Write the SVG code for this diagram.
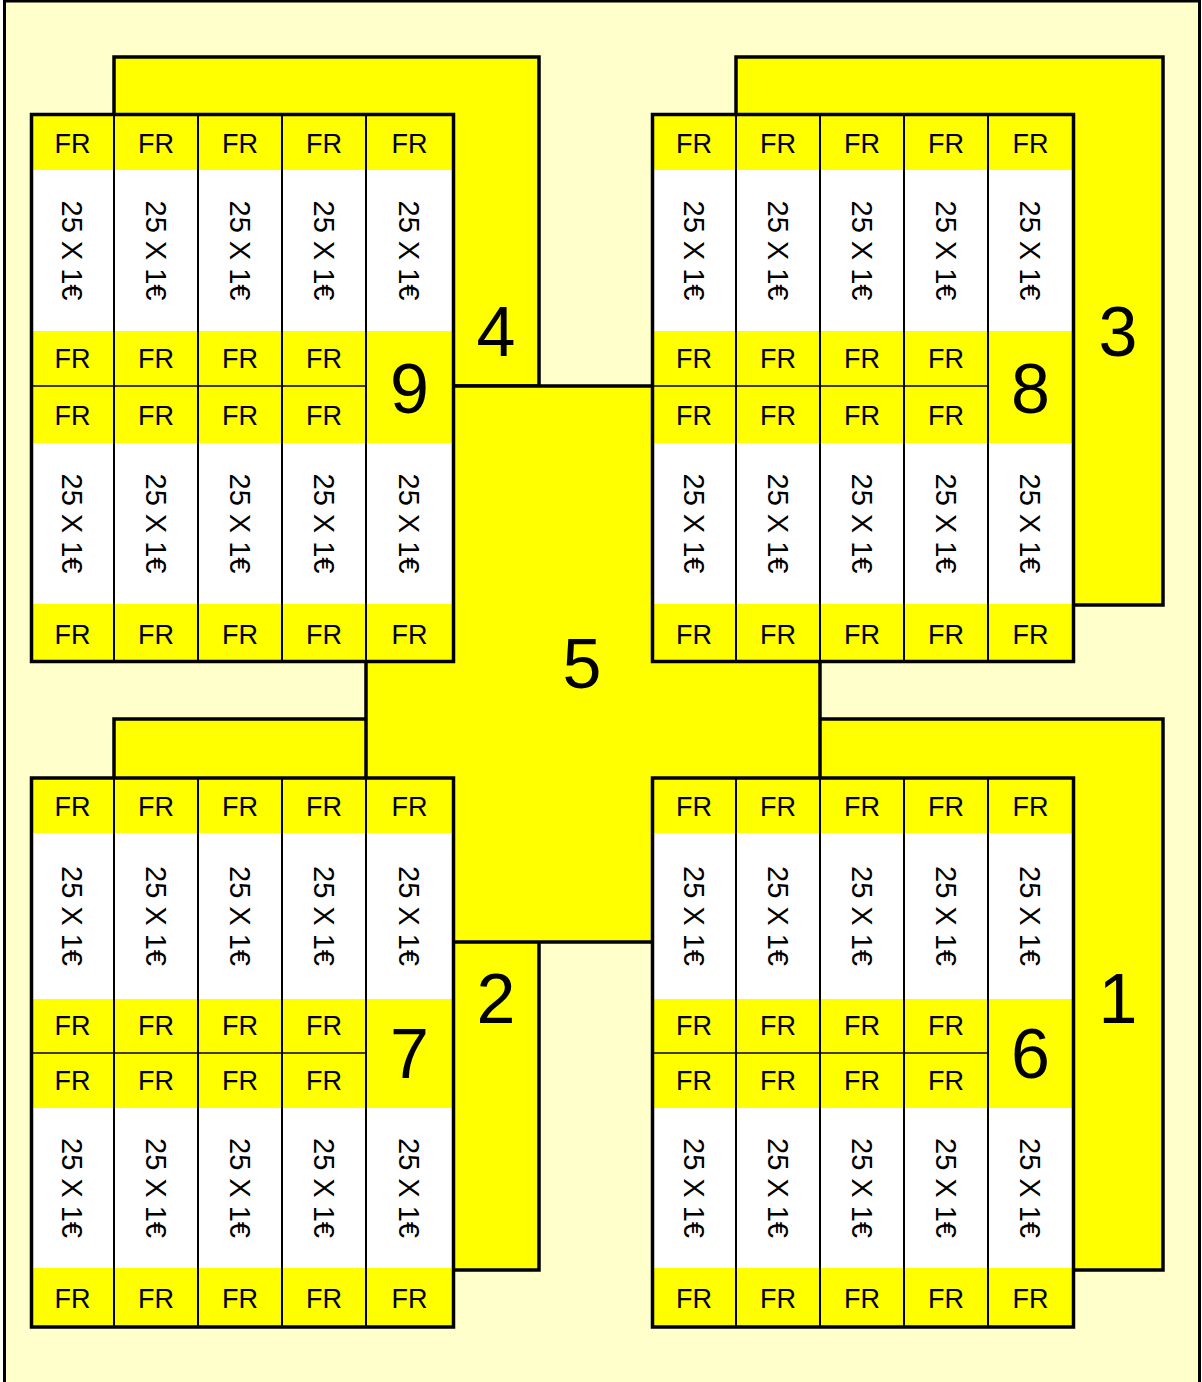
<svg xmlns="http://www.w3.org/2000/svg" width="1202" height="1382" viewBox="0 0 1202 1382">
<style>
.bg{fill:#FFFFCC;stroke:#000;stroke-width:3}
.panel{fill:#FFFF00;stroke:#000;stroke-width:3.5}
.gfill{fill:#FFFF00}
.white{fill:#FFFFFF}
.border{fill:none;stroke:#000;stroke-width:3.5}
.col{stroke:#000;stroke-width:2}
.mid{stroke:#000;stroke-width:1.3}
text{font-family:"Liberation Sans",Arial,sans-serif;fill:#000;text-anchor:middle}
.fr{font-size:27px}
.v{font-size:29px}
.num{font-size:70px}
</style>
<rect width="1202" height="1382" fill="#FFFFFF"/>
<rect class="bg" x="4.5" y="1" width="1195" height="1400"/>
<g id="connectors"/>
<g id="panel1"><rect class="panel" x="736" y="719" width="427" height="551"/><text class="num" x="1118" y="1023">1</text></g>
<g id="panel2"><rect class="panel" x="114" y="719" width="425" height="551"/><text class="num" x="496" y="1023">2</text></g>
<g id="panel3"><rect class="panel" x="736" y="57" width="427" height="548"/><text class="num" x="1118" y="356">3</text></g>
<g id="panel4"><rect class="panel" x="114" y="57" width="425" height="329"/><text class="num" x="496" y="356">4</text></g>
<g id="panel5"><rect class="panel" x="366" y="386" width="454" height="556"/><text class="num" x="582" y="688">5</text></g>

<g id="grid9">
<rect class="gfill" x="31.5" y="114.5" width="422" height="547"/>
<rect class="white" x="33" y="170" width="419" height="161"/>
<rect class="white" x="33" y="443" width="419" height="161"/>
<line class="col" x1="114" y1="114" x2="114" y2="662"/>
<line class="col" x1="198" y1="114" x2="198" y2="662"/>
<line class="col" x1="282" y1="114" x2="282" y2="662"/>
<line class="col" x1="366" y1="114" x2="366" y2="662"/>
<line class="mid" x1="31" y1="386" x2="366" y2="386"/>
<rect class="border" x="31.5" y="114.5" width="422" height="547"/>
<text class="fr" x="72.5" y="153">FR</text><text class="fr" x="156" y="153">FR</text><text class="fr" x="240" y="153">FR</text><text class="fr" x="324" y="153">FR</text><text class="fr" x="409.5" y="153">FR</text>
<text class="fr" x="72.5" y="368">FR</text><text class="fr" x="156" y="368">FR</text><text class="fr" x="240" y="368">FR</text><text class="fr" x="324" y="368">FR</text>
<text class="fr" x="72.5" y="425">FR</text><text class="fr" x="156" y="425">FR</text><text class="fr" x="240" y="425">FR</text><text class="fr" x="324" y="425">FR</text>
<text class="fr" x="72.5" y="644">FR</text><text class="fr" x="156" y="644">FR</text><text class="fr" x="240" y="644">FR</text><text class="fr" x="324" y="644">FR</text><text class="fr" x="409.5" y="644">FR</text>
<text class="v" transform="translate(72.5,250.5) rotate(90)" y="10.5">25 X 1€</text>
<text class="v" transform="translate(156,250.5) rotate(90)" y="10.5">25 X 1€</text>
<text class="v" transform="translate(240,250.5) rotate(90)" y="10.5">25 X 1€</text>
<text class="v" transform="translate(324,250.5) rotate(90)" y="10.5">25 X 1€</text>
<text class="v" transform="translate(409.5,250.5) rotate(90)" y="10.5">25 X 1€</text>
<text class="v" transform="translate(72.5,523.5) rotate(90)" y="10.5">25 X 1€</text>
<text class="v" transform="translate(156,523.5) rotate(90)" y="10.5">25 X 1€</text>
<text class="v" transform="translate(240,523.5) rotate(90)" y="10.5">25 X 1€</text>
<text class="v" transform="translate(324,523.5) rotate(90)" y="10.5">25 X 1€</text>
<text class="v" transform="translate(409.5,523.5) rotate(90)" y="10.5">25 X 1€</text>
<text class="num" x="409.5" y="413">9</text>
</g>

<g id="grid8">
<rect class="gfill" x="652.5" y="114.5" width="421" height="547"/>
<rect class="white" x="654" y="170" width="418" height="161"/>
<rect class="white" x="654" y="443" width="418" height="161"/>
<line class="col" x1="736" y1="114" x2="736" y2="662"/>
<line class="col" x1="820" y1="114" x2="820" y2="662"/>
<line class="col" x1="904" y1="114" x2="904" y2="662"/>
<line class="col" x1="988" y1="114" x2="988" y2="662"/>
<line class="mid" x1="652" y1="386" x2="988" y2="386"/>
<rect class="border" x="652.5" y="114.5" width="421" height="547"/>
<text class="fr" x="694" y="153">FR</text><text class="fr" x="778" y="153">FR</text><text class="fr" x="862" y="153">FR</text><text class="fr" x="946" y="153">FR</text><text class="fr" x="1030.5" y="153">FR</text>
<text class="fr" x="694" y="368">FR</text><text class="fr" x="778" y="368">FR</text><text class="fr" x="862" y="368">FR</text><text class="fr" x="946" y="368">FR</text>
<text class="fr" x="694" y="425">FR</text><text class="fr" x="778" y="425">FR</text><text class="fr" x="862" y="425">FR</text><text class="fr" x="946" y="425">FR</text>
<text class="fr" x="694" y="644">FR</text><text class="fr" x="778" y="644">FR</text><text class="fr" x="862" y="644">FR</text><text class="fr" x="946" y="644">FR</text><text class="fr" x="1030.5" y="644">FR</text>
<text class="v" transform="translate(694,250.5) rotate(90)" y="10.5">25 X 1€</text>
<text class="v" transform="translate(778,250.5) rotate(90)" y="10.5">25 X 1€</text>
<text class="v" transform="translate(862,250.5) rotate(90)" y="10.5">25 X 1€</text>
<text class="v" transform="translate(946,250.5) rotate(90)" y="10.5">25 X 1€</text>
<text class="v" transform="translate(1030.5,250.5) rotate(90)" y="10.5">25 X 1€</text>
<text class="v" transform="translate(694,523.5) rotate(90)" y="10.5">25 X 1€</text>
<text class="v" transform="translate(778,523.5) rotate(90)" y="10.5">25 X 1€</text>
<text class="v" transform="translate(862,523.5) rotate(90)" y="10.5">25 X 1€</text>
<text class="v" transform="translate(946,523.5) rotate(90)" y="10.5">25 X 1€</text>
<text class="v" transform="translate(1030.5,523.5) rotate(90)" y="10.5">25 X 1€</text>
<text class="num" x="1030.5" y="413">8</text>
</g>

<g id="grid7">
<rect class="gfill" x="31.5" y="778" width="422" height="549"/>
<rect class="white" x="33" y="833" width="419" height="166"/>
<rect class="white" x="33" y="1108" width="419" height="160"/>
<line class="col" x1="114" y1="778" x2="114" y2="1327"/>
<line class="col" x1="198" y1="778" x2="198" y2="1327"/>
<line class="col" x1="282" y1="778" x2="282" y2="1327"/>
<line class="col" x1="366" y1="778" x2="366" y2="1327"/>
<line class="mid" x1="31" y1="1053" x2="366" y2="1053"/>
<rect class="border" x="31.5" y="778" width="422" height="549"/>
<text class="fr" x="72.5" y="816">FR</text><text class="fr" x="156" y="816">FR</text><text class="fr" x="240" y="816">FR</text><text class="fr" x="324" y="816">FR</text><text class="fr" x="409.5" y="816">FR</text>
<text class="fr" x="72.5" y="1035">FR</text><text class="fr" x="156" y="1035">FR</text><text class="fr" x="240" y="1035">FR</text><text class="fr" x="324" y="1035">FR</text>
<text class="fr" x="72.5" y="1090">FR</text><text class="fr" x="156" y="1090">FR</text><text class="fr" x="240" y="1090">FR</text><text class="fr" x="324" y="1090">FR</text>
<text class="fr" x="72.5" y="1308">FR</text><text class="fr" x="156" y="1308">FR</text><text class="fr" x="240" y="1308">FR</text><text class="fr" x="324" y="1308">FR</text><text class="fr" x="409.5" y="1308">FR</text>
<text class="v" transform="translate(72.5,916) rotate(90)" y="10.5">25 X 1€</text>
<text class="v" transform="translate(156,916) rotate(90)" y="10.5">25 X 1€</text>
<text class="v" transform="translate(240,916) rotate(90)" y="10.5">25 X 1€</text>
<text class="v" transform="translate(324,916) rotate(90)" y="10.5">25 X 1€</text>
<text class="v" transform="translate(409.5,916) rotate(90)" y="10.5">25 X 1€</text>
<text class="v" transform="translate(72.5,1188) rotate(90)" y="10.5">25 X 1€</text>
<text class="v" transform="translate(156,1188) rotate(90)" y="10.5">25 X 1€</text>
<text class="v" transform="translate(240,1188) rotate(90)" y="10.5">25 X 1€</text>
<text class="v" transform="translate(324,1188) rotate(90)" y="10.5">25 X 1€</text>
<text class="v" transform="translate(409.5,1188) rotate(90)" y="10.5">25 X 1€</text>
<text class="num" x="409.5" y="1078">7</text>
</g>

<g id="grid6">
<rect class="gfill" x="652.5" y="778" width="421" height="549"/>
<rect class="white" x="654" y="833" width="418" height="166"/>
<rect class="white" x="654" y="1108" width="418" height="160"/>
<line class="col" x1="736" y1="778" x2="736" y2="1327"/>
<line class="col" x1="820" y1="778" x2="820" y2="1327"/>
<line class="col" x1="904" y1="778" x2="904" y2="1327"/>
<line class="col" x1="988" y1="778" x2="988" y2="1327"/>
<line class="mid" x1="652" y1="1053" x2="988" y2="1053"/>
<rect class="border" x="652.5" y="778" width="421" height="549"/>
<text class="fr" x="694" y="816">FR</text><text class="fr" x="778" y="816">FR</text><text class="fr" x="862" y="816">FR</text><text class="fr" x="946" y="816">FR</text><text class="fr" x="1030.5" y="816">FR</text>
<text class="fr" x="694" y="1035">FR</text><text class="fr" x="778" y="1035">FR</text><text class="fr" x="862" y="1035">FR</text><text class="fr" x="946" y="1035">FR</text>
<text class="fr" x="694" y="1090">FR</text><text class="fr" x="778" y="1090">FR</text><text class="fr" x="862" y="1090">FR</text><text class="fr" x="946" y="1090">FR</text>
<text class="fr" x="694" y="1308">FR</text><text class="fr" x="778" y="1308">FR</text><text class="fr" x="862" y="1308">FR</text><text class="fr" x="946" y="1308">FR</text><text class="fr" x="1030.5" y="1308">FR</text>
<text class="v" transform="translate(694,916) rotate(90)" y="10.5">25 X 1€</text>
<text class="v" transform="translate(778,916) rotate(90)" y="10.5">25 X 1€</text>
<text class="v" transform="translate(862,916) rotate(90)" y="10.5">25 X 1€</text>
<text class="v" transform="translate(946,916) rotate(90)" y="10.5">25 X 1€</text>
<text class="v" transform="translate(1030.5,916) rotate(90)" y="10.5">25 X 1€</text>
<text class="v" transform="translate(694,1188) rotate(90)" y="10.5">25 X 1€</text>
<text class="v" transform="translate(778,1188) rotate(90)" y="10.5">25 X 1€</text>
<text class="v" transform="translate(862,1188) rotate(90)" y="10.5">25 X 1€</text>
<text class="v" transform="translate(946,1188) rotate(90)" y="10.5">25 X 1€</text>
<text class="v" transform="translate(1030.5,1188) rotate(90)" y="10.5">25 X 1€</text>
<text class="num" x="1030.5" y="1078">6</text>
</g>
</svg>
